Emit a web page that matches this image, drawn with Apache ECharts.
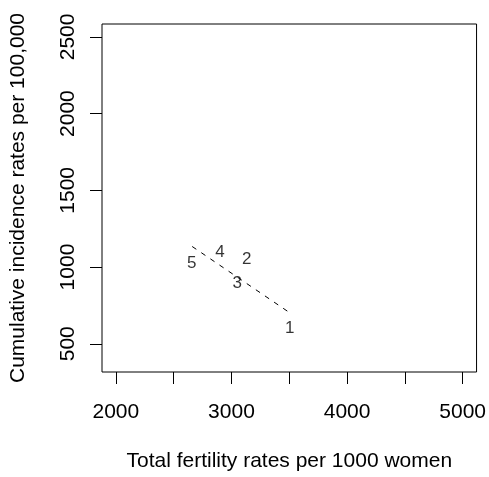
<!DOCTYPE html>
<html>
<head>
<meta charset="utf-8">
<script src="https://cdn.jsdelivr.net/npm/echarts@6/dist/echarts.min.js"></script>
<style>
  html, body { margin: 0; padding: 0; background: #fff; }
  #chart { width: 489px; height: 477px; }
</style>
</head>
<body>
<div id="chart"></div>
<script>
// ---- data ----
const pointLabels = ['1', '2', '3', '4', '5'];
const fertility = [3504, 3131, 3050, 2901, 2657];
const incidence = [601, 1050, 893, 1098, 1022];

// fitted (regression) line end points
const fitFertility = [2660, 3512];
const fitIncidence = [1134, 698];

// axis ticks and labels
const xTicks = [2000, 2500, 3000, 3500, 4000, 4500, 5000];
const xTickLabels = [2000, 3000, 4000, 5000];
const yTicks = [500, 1000, 1500, 2000, 2500];
const yTickLabels = [500, 1000, 1500, 2000, 2500];

const xTitle = 'Total fertility rates per 1000 women';
const yTitle = 'Cumulative incidence rates per 100,000';

const FONT = "'Liberation Sans', Arial, sans-serif";

const chart = echarts.init(document.getElementById('chart'), null, { renderer: 'canvas' });

chart.setOption({
  animation: false,
  backgroundColor: '#fff',
  grid: {
    left: 101, right: 12, top: 24, bottom: 103,
    show: true, borderColor: '#000', borderWidth: 1, backgroundColor: 'transparent'
  },
  xAxis: {
    type: 'value',
    min: 1880, max: 5120,
    axisLine: { show: false },
    splitLine: { show: false },
    axisTick: { show: true, inside: false, length: 12, customValues: xTicks,
      lineStyle: { color: '#000', width: 1 } },
    axisLabel: { customValues: xTickLabels, margin: 30, fontSize: 21,
      color: '#000', fontFamily: FONT, formatter: v => String(v) },
    name: xTitle,
    nameLocation: 'middle',
    nameGap: 79,
    nameTextStyle: { fontSize: 21, color: '#000', fontFamily: FONT }
  },
  yAxis: {
    type: 'value',
    min: 316, max: 2584,
    axisLine: { show: false },
    splitLine: { show: false },
    axisTick: { show: true, inside: false, length: 12, customValues: yTicks,
      lineStyle: { color: '#000', width: 1 } },
    axisLabel: { customValues: yTickLabels, rotate: 90, margin: 23, fontSize: 21,
      color: '#000', fontFamily: FONT, formatter: v => String(v) },
    name: yTitle,
    nameLocation: 'middle',
    nameGap: 73,
    nameTextStyle: { fontSize: 21, color: '#000', fontFamily: FONT }
  },
  series: [
    {
      type: 'line',
      data: fitFertility.map((x, i) => [x, fitIncidence[i]]),
      symbol: 'none',
      lineStyle: { color: '#000', width: 1, type: [5, 6] },
      silent: true
    },
    {
      type: 'scatter',
      symbolSize: 1,
      itemStyle: { color: 'rgba(0,0,0,0)' },
      data: fertility.map((x, i) => ({ name: pointLabels[i], value: [x, incidence[i]] })),
      label: {
        show: true, position: 'inside', formatter: '{b}',
        fontSize: 17, color: '#000', fontFamily: FONT
      }
    }
  ]
});
</script>
</body>
</html>
